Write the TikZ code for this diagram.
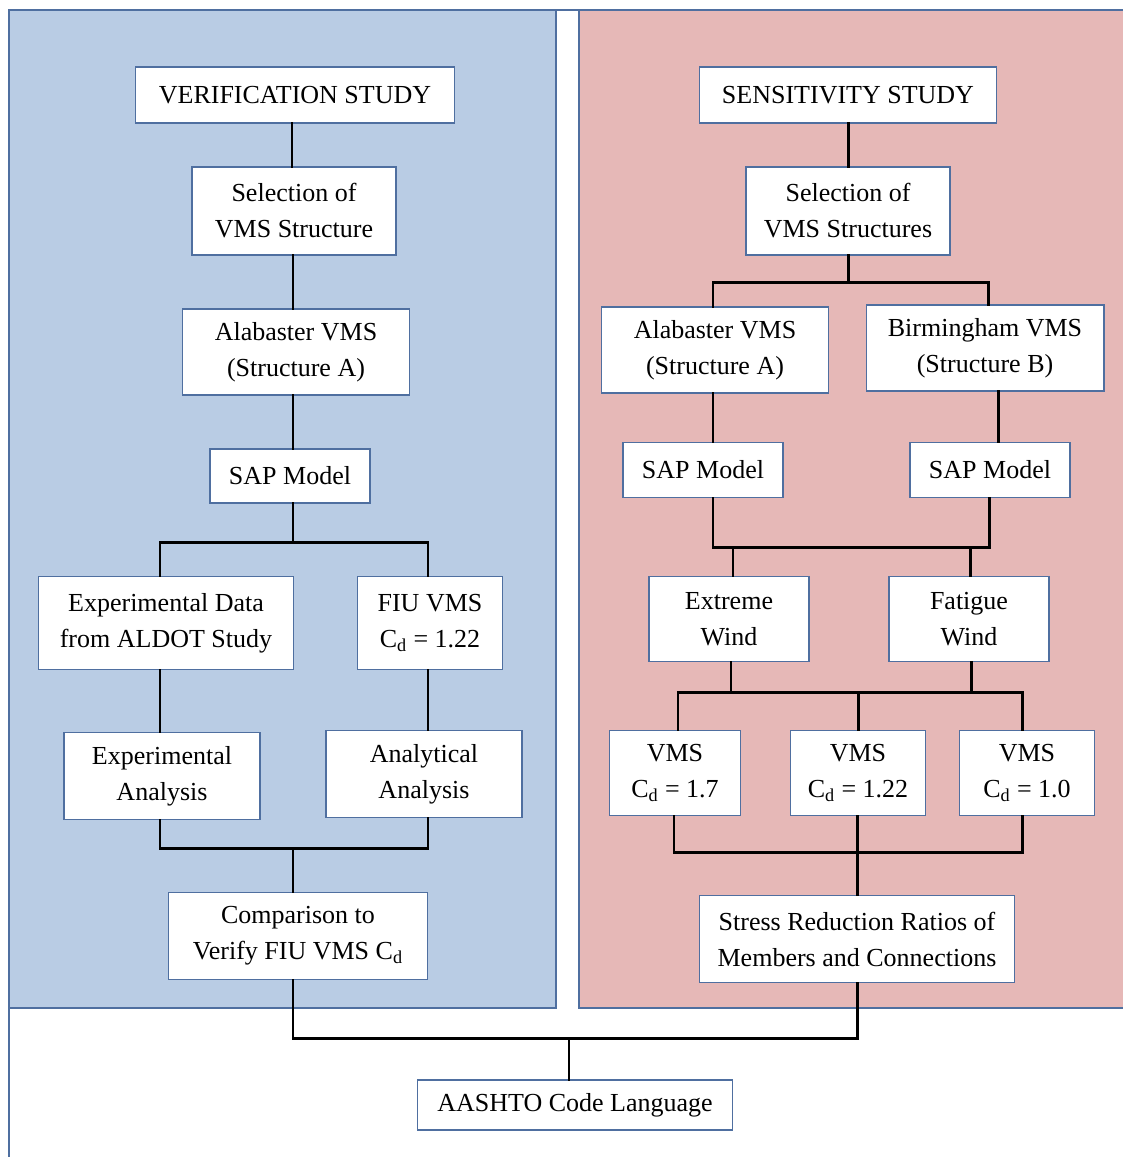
\documentclass[tikz,border=0pt]{standalone}
\usepackage{fontspec}
\setmainfont{Liberation Serif}
\definecolor{bluepanel}{HTML}{B9CCE4}
\definecolor{pinkpanel}{HTML}{E6B8B7}
\definecolor{boxline}{HTML}{4F6FA0}
\tikzset{
    box/.style 2 args={draw=boxline, line width=0.6pt, fill=white, align=center,
        minimum width=#1, minimum height=#2, inner sep=2pt,
        font=\fontsize{14.8}{20.5}\selectfont},
    link/.style={line width=1.7pt, line cap=rect}
}
\begin{document}
\begin{tikzpicture}[x=0.02cm, y=-0.02cm]
    \useasboundingbox (0,0) rectangle (1123,1157);
    \clip (0,0) rectangle (1123,1157);
    % panels
    \draw[boxline, line width=0.8pt] (9,10) rectangle (1140,1180);
    \draw[boxline, line width=0.8pt, fill=bluepanel] (9,10) rectangle (556,1008);
    \draw[boxline, line width=0.8pt, fill=pinkpanel] (579,10) rectangle (1140,1008);

    % verification study
    \node[box={6.4cm}{1.12cm}] (verif) at (295,95) {VERIFICATION STUDY};
    \node[box={4.08cm}{1.76cm}] (sel1) at (294,211) {Selection of\\VMS Structure};
    \node[box={4.54cm}{1.72cm}] (alab1) at (296,352) {Alabaster VMS\\(Structure A)};
    \node[box={3.2cm}{1.08cm}] (sap1) at (290,476) {SAP Model};
    \node[box={5.1cm}{1.86cm}] (exp) at (166,623) {Experimental Data\\from ALDOT Study};
    \node[box={2.9cm}{1.86cm}] (fiu) at (430,623) {FIU VMS\\C\textsubscript{d} = 1.22};
    \node[box={3.92cm}{1.74cm}] (expa) at (162,776) {Experimental\\Analysis};
    \node[box={3.92cm}{1.74cm}] (ana) at (424,774) {Analytical\\Analysis};
    \node[box={5.18cm}{1.74cm}] (comp) at (298,936) {Comparison to\\Verify FIU VMS C\textsubscript{d}};

    % sensitivity study
    \node[box={5.94cm}{1.12cm}] (sens) at (848,95) {SENSITIVITY STUDY};
    \node[box={4.08cm}{1.76cm}] (sel2) at (848,211) {Selection of\\VMS Structures};
    \node[box={4.54cm}{1.72cm}] (alab2) at (715,350) {Alabaster VMS\\(Structure A)};
    \node[box={4.76cm}{1.72cm}] (birm) at (985,348) {Birmingham VMS\\(Structure B)};
    \node[box={3.2cm}{1.1cm}] (sap2) at (703,470) {SAP Model};
    \node[box={3.2cm}{1.1cm}] (sap3) at (990,470) {SAP Model};
    \node[box={3.2cm}{1.7cm}] (extreme) at (729,619) {Extreme\\Wind};
    \node[box={3.2cm}{1.7cm}] (fatigue) at (969,619) {Fatigue\\Wind};
    \node[box={2.62cm}{1.7cm}] (vms1) at (675,773) {VMS\\C\textsubscript{d} = 1.7};
    \node[box={2.7cm}{1.7cm}] (vms2) at (858,773) {VMS\\C\textsubscript{d} = 1.22};
    \node[box={2.7cm}{1.7cm}] (vms3) at (1027,773) {VMS\\C\textsubscript{d} = 1.0};
    \node[box={6.3cm}{1.74cm}] (sred) at (857,939) {Stress Reduction Ratios of\\Members and Connections};

    \node[box={6.3cm}{1.0cm}] (aashto) at (575,1105) {AASHTO Code Language};

    % joints
    \coordinate (j1) at (293,542);
    \coordinate (j2) at (293,848);
    \coordinate (j3) at (848,282);
    \coordinate (j4) at (850,547);
    \coordinate (j5) at (858,692);
    \coordinate (j6) at (857,852);
    \coordinate (j7) at (569,1038);

    % left connectors
    \draw[link] (verif.south -| 292,0) -- (sel1.north -| 292,0);
    \draw[link] (sel1.south -| 293,0) -- (alab1.north -| 293,0);
    \draw[link] (alab1.south -| j1) -- (sap1.north -| j1);
    \draw[link] (sap1.south -| j1) -- (j1);
    \draw[link] (exp.north -| 160,0) |- (j1) -| (fiu.north -| 428,0);
    \draw[link] (exp.south -| 160,0) -- (expa.north -| 160,0);
    \draw[link] (fiu.south -| 428,0) -- (ana.north -| 428,0);
    \draw[link] (expa.south -| 160,0) |- (j2) -| (ana.south -| 428,0);
    \draw[link] (j2) -- (comp.north -| j2);

    % right connectors
    \draw[link] (sens) -- (sel2);
    \draw[link] (sel2) -- (j3);
    \draw[link] (alab2.north -| 713,0) |- (j3) -| (birm.north -| 988,0);
    \draw[link] (alab2.south -| 713,0) -- (sap2.north -| 713,0);
    \draw[link] (birm.south -| 998,0) -- (sap3.north -| 998,0);
    \draw[link] (sap2.south -| 713,0) |- (j4) -| (sap3.south -| 989,0);
    \draw[link] (extreme.north -| 733,0) -- (j4 -| 733,0);
    \draw[link] (fatigue.north -| 970,0) -- (j4 -| 970,0);
    \draw[link] (extreme.south -| 731,0) -- (j5 -| 731,0);
    \draw[link] (fatigue.south -| 971,0) -- (j5 -| 971,0);
    \draw[link] (vms1.north -| 678,0) |- (j5) -| (vms3.north -| 1022,0);
    \draw[link] (vms2.north -| j5) -- (j5);
    \draw[link] (vms1.south -| 674,0) |- (j6) -| (vms3.south -| 1022,0);
    \draw[link] (vms2.south -| j6) -- (sred.north -| j6);

    % bottom
    \draw[link] (comp.south -| 293,0) |- (j7) -| (sred.south -| 857,0);
    \draw[link] (j7) -- (aashto.north -| j7);
\end{tikzpicture}
\end{document}
